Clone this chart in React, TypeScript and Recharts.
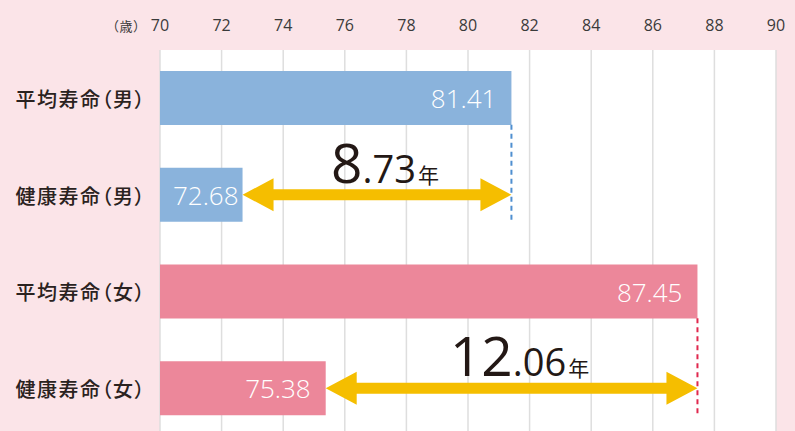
import { BarChart, Bar, XAxis, YAxis, CartesianGrid, Cell, LabelList } from "recharts";

const categories = ["平均寿命（男）", "健康寿命（男）", "平均寿命（女）", "健康寿命（女）"];
const lifeValues = [81.41, 72.68, 87.45, 75.38];
// 健康寿命 → 平均寿命 の差（矢印）
const gapFrom = [null, 72.68, null, 75.38];
const gapTo = [null, 81.41, null, 87.45];
const gapWhole = [null, "8", null, "12"];
const gapFrac = [null, ".73", null, ".06"];
const xTicks = [70, 72, 74, 76, 78, 80, 82, 84, 86, 88, 90];

const barColors = ["#8ab3dc", "#8ab3dc", "#ec879a", "#ec879a"];
const dashColors = ["#4f8fd0", "#4f8fd0", "#e0284e", "#e0284e"];

const data = categories.map((name, i) => ({
  name,
  value: lifeValues[i],
  gap: gapFrom[i] == null ? null : [gapFrom[i], gapTo[i]],
  whole: gapWhole[i],
  frac: gapFrac[i],
}));

const NUM_FONT = "'Open Sans', 'Noto Sans', sans-serif";
const JP_FONT = "'Noto Sans CJK JP', sans-serif";

function TopTick(props: any) {
  const { x, payload } = props;
  return (
    <g>
      {payload.value === 70 && (
        <text
          x={x - 19}
          y={25}
          textAnchor="end"
          dominantBaseline="central"
          fontSize={13}
          fill="#3a3a3a"
          fontFamily={JP_FONT}
          style={{ fontFeatureSettings: '"palt"', letterSpacing: 1 }}
        >
          （歳）
        </text>
      )}
      <text x={x} y={25} textAnchor="middle" dominantBaseline="central" fontSize={16} fill="#3a3a3a" fontFamily={NUM_FONT}>
        {payload.value}
      </text>
    </g>
  );
}

function CatTick(props: any) {
  const { x, y, payload } = props;
  return (
    <text
      x={x - 6}
      y={y}
      textAnchor="end"
      dominantBaseline="central"
      fontSize={20}
      fontWeight={500}
      fill="#2a2220"
      fontFamily={JP_FONT}
      style={{ fontFeatureSettings: '"palt"', letterSpacing: 1.5 }}
    >
      {payload.value}
    </text>
  );
}

function ValueLabel(props: any) {
  const { x, y, width, height, value } = props;
  const pad = width < 100 ? 4 : 15;
  return (
    <text x={x + width - pad} y={y + height / 2} textAnchor="end" dominantBaseline="central" fontSize={26} fontWeight={300} fill="#ffffff" fontFamily={NUM_FONT}>
      {value.toFixed(2)}
    </text>
  );
}

function GapArrow(props: any) {
  const { x, y, width, height, payload } = props;
  if (!payload || payload.gap == null) return null;
  const row = categories.indexOf(payload.name);
  const cy = y + height / 2;
  const x1 = x;
  const x2 = x + width;
  const hw = 31;
  const hh = 16.5;
  const sh = 5.5;
  const pts = [
    [x1, cy], [x1 + hw, cy - hh], [x1 + hw, cy - sh], [x2 - hw, cy - sh], [x2 - hw, cy - hh],
    [x2, cy], [x2 - hw, cy + hh], [x2 - hw, cy + sh], [x1 + hw, cy + sh], [x1 + hw, cy + hh],
  ].map((p) => p.join(",")).join(" ");
  return (
    <g>
      <line x1={x2} x2={x2} y1={cy - 70} y2={cy + 28} stroke={dashColors[row]} strokeWidth={2} strokeDasharray="5 4" />
      <polygon points={pts} fill="#f5be00" />
      <text x={(x1 + x2) / 2 + 8} y={cy - 12} textAnchor="middle" fill="#231815" fontFamily={NUM_FONT} fontWeight={400}>
        <tspan fontSize={55}>{payload.whole}</tspan>
        <tspan fontSize={38}>{payload.frac}</tspan>
        <tspan fontSize={21} fontFamily={JP_FONT} fontWeight={400} dx={2}>年</tspan>
      </text>
    </g>
  );
}

export default function App() {
  return (
    <div style={{ width: 795, height: 431, overflow: "hidden", background: "#fbe4e8" }}>
      <style>{"body{margin:0}"}</style>
      <BarChart
        width={795}
        height={437}
        data={data}
        layout="vertical"
        margin={{ top: 20, right: 19, left: 0, bottom: 0 }}
        barGap={-54}
      >
        <CartesianGrid horizontal={false} stroke="#dedede" strokeWidth={1.5} fill="#ffffff" />
        <XAxis
          type="number"
          orientation="top"
          domain={[70, 90]}
          ticks={xTicks}
          axisLine={false}
          tickLine={false}
          height={30}
          tick={<TopTick />}
        />
        <YAxis type="category" dataKey="name" width={160} axisLine={false} tickLine={false} tick={<CatTick />} />
        <Bar dataKey="value" barSize={54} isAnimationActive={false}>
          {data.map((_, i) => (
            <Cell key={i} fill={barColors[i]} />
          ))}
          <LabelList dataKey="value" content={<ValueLabel />} />
        </Bar>
        <Bar dataKey="gap" barSize={54} isAnimationActive={false} shape={<GapArrow />} />
      </BarChart>
    </div>
  );
}
